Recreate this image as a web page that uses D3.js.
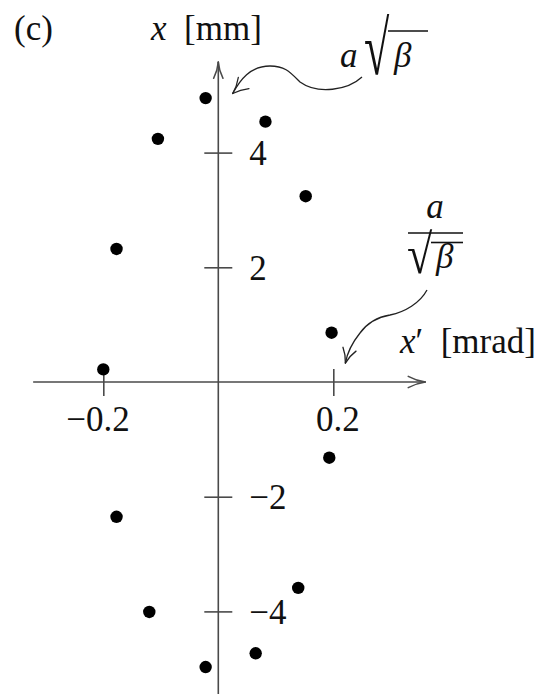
<!DOCTYPE html>
<html>
<head>
<meta charset="utf-8">
<script src="https://cdn.jsdelivr.net/npm/d3@7"></script>
<style>
  body { margin: 0; background: #fff; }
  svg { display: block; }
  text { font-family: "Liberation Serif", "Times New Roman", serif; fill: #111; }
</style>
</head>
<body>
<svg id="chart" width="552" height="694"></svg>
<script>
// Phase-space samples of successive turns: slope x' [mrad] and position x [mm]
const slopeMrad  = [-0.022, 0.082, -0.105, 0.152, -0.177, -0.200, 0.197, 0.193, -0.177, 0.139, -0.120, 0.065, -0.022];
const positionMm = [ 4.95,  4.54,   4.24,  3.24,   2.32,   0.22,  0.86, -1.32, -2.35, -3.59, -4.01, -4.73, -4.97];

// Axis ticks
const xTickValues = [-0.2, 0.2];
const yTickValues = [-4, -2, 2, 4];

const svg = d3.select("#chart");
const FONT = 35;
const AXIS_COLOR = "#4a4a4a";

// Scales: origin at the axis crossing
const x = d3.scaleLinear().domain([-0.2, 0.2]).range([103.3, 333.3]);
const y = d3.scaleLinear().domain([-2, 2]).range([496.7, 267.3]);

const x0 = x(0), y0 = y(0);

// Open "to"-style arrow head drawn with slightly bowed arms
function arrowHead(g, tip, angle, len, spread, color, width) {
  [-1, 1].forEach(s => {
    const a = angle + Math.PI + s * spread;
    const ex = tip[0] + len * Math.cos(a), ey = tip[1] + len * Math.sin(a);
    const mx = (tip[0] + ex) / 2, my = (tip[1] + ey) / 2;
    const nx = -Math.sin(a) * s * 1.6, ny = Math.cos(a) * s * 1.6;
    g.append("path")
      .attr("d", `M${ex},${ey} Q${mx - nx},${my - ny} ${tip[0]},${tip[1]}`)
      .attr("fill", "none").attr("stroke", color).attr("stroke-width", width)
      .attr("stroke-linecap", "round");
  });
}

// Radical sign stretched to the given height, followed by its vinculum
function radical(g, left, baseline, stretch, barY, barEnd) {
  g.append("text")
    .attr("transform", `translate(${left},${baseline}) scale(1,${stretch})`)
    .attr("font-size", 46).text("\u221A");
  g.append("line").attr("x1", left + 24).attr("x2", barEnd).attr("y1", barY).attr("y2", barY)
    .attr("stroke", "#111").attr("stroke-width", 1.6);
}

// ---- Axes ----
const axes = svg.append("g");
const xStart = x(-0.322), xEnd = x(0.36);
const yTop = y(5.58), yBottom = y(-5.8);

axes.append("line").attr("x1", xStart).attr("x2", xEnd).attr("y1", y0).attr("y2", y0)
  .attr("stroke", AXIS_COLOR).attr("stroke-width", 1.6);
axes.append("line").attr("x1", x0).attr("x2", x0).attr("y1", yBottom).attr("y2", yTop)
  .attr("stroke", AXIS_COLOR).attr("stroke-width", 1.6);
arrowHead(axes, [xEnd, y0], 0, 18, 0.32, AXIS_COLOR, 1.5);
arrowHead(axes, [x0, yTop], -Math.PI / 2, 17, 0.28, AXIS_COLOR, 1.5);

// x ticks (crossing the axis) with labels
const xAxis = d3.axisBottom(x).tickValues(xTickValues).tickFormat(d3.format(".1f"));
const gx = svg.append("g").attr("transform", `translate(0,${y0})`).call(xAxis);
gx.select(".domain").remove();
gx.selectAll(".tick line").attr("y1", -13).attr("y2", 14)
  .attr("stroke", AXIS_COLOR).attr("stroke-width", 1.6);
gx.selectAll(".tick text")
  .attr("font-size", FONT)
  .attr("text-anchor", "end").attr("x", 26).attr("y", 49).attr("dy", null)
  .style("fill", "#111");

// y ticks (crossing the axis) with labels
const yAxis = d3.axisRight(y).tickValues(yTickValues).tickFormat(d3.format("d"));
const gy = svg.append("g").attr("transform", `translate(${x0},0)`).call(yAxis);
gy.select(".domain").remove();
gy.selectAll(".tick line").attr("x1", -14).attr("x2", 14)
  .attr("stroke", AXIS_COLOR).attr("stroke-width", 1.6);
gy.selectAll(".tick text")
  .attr("font-size", FONT)
  .attr("text-anchor", "start").attr("x", 31).attr("y", 0).attr("dy", 12)
  .style("fill", "#111");
gx.attr("font-family", null); gy.attr("font-family", null);

// ---- Data points ----
svg.append("g").selectAll("circle")
  .data(d3.zip(slopeMrad, positionMm))
  .join("circle")
  .attr("cx", d => x(d[0]))
  .attr("cy", d => y(d[1]))
  .attr("r", 6.2)
  .attr("fill", "#000");

// ---- Labels ----
svg.append("text").attr("x", 14).attr("y", 40).attr("font-size", FONT).text("(c)");

const yLab = svg.append("text").attr("x", 151).attr("y", 40).attr("font-size", FONT);
yLab.append("tspan").attr("font-style", "italic").text("x");
yLab.append("tspan").text("\u2002[mm]");

const xLab = svg.append("text").attr("x", 400).attr("y", 353).attr("font-size", FONT);
xLab.append("tspan").attr("font-style", "italic").text("x");
xLab.append("tspan").text("\u2032\u2002[mrad]");

// a·sqrt(beta)  (amplitude in x)
const ann1 = svg.append("g");
ann1.append("text").attr("x", 340).attr("y", 67).attr("font-size", FONT)
  .attr("font-style", "italic").text("a");
radical(ann1, 364, 74, 1.65, 31, 428);
ann1.append("text").attr("x", 394).attr("y", 67).attr("font-size", FONT)
  .attr("font-style", "italic").text("\u03B2");

// a / sqrt(beta)  (amplitude in x')
const ann2 = svg.append("g");
ann2.append("text").attr("x", 435).attr("y", 218).attr("font-size", FONT)
  .attr("text-anchor", "middle").attr("font-style", "italic").text("a");
ann2.append("line").attr("x1", 408).attr("x2", 463).attr("y1", 233).attr("y2", 233)
  .attr("stroke", "#111").attr("stroke-width", 1.6);
radical(ann2, 407, 273, 1.2, 242.5, 463);
ann2.append("text").attr("x", 436).attr("y", 268).attr("font-size", FONT)
  .attr("font-style", "italic").text("\u03B2");

// ---- Curved pointer arrows ----
const arrows = svg.append("g");
// to the top of the x range (x = a*sqrt(beta))
const tip1 = [x(0.025), y(5.03)];
arrows.append("path")
  .attr("d", `M362,77 C348,90 318,95 300,82 C290,72 285,66 270,66 C250,66 240,80 ${tip1[0]},${tip1[1]}`)
  .attr("fill", "none").attr("stroke", "#222").attr("stroke-width", 1.3);
arrowHead(arrows, tip1, Math.atan2(11, -11.5), 17, 0.47, "#222", 1.3);

// to the end of the x' range (x' = a/sqrt(beta))
const tip2 = [x(0.221), y(0.33)];
arrows.append("path")
  .attr("d", `M427,290 C420,303 405,312 390,315 C378,317 368,322 360,333 C352,343 347,354 ${tip2[0]},${tip2[1]}`)
  .attr("fill", "none").attr("stroke", "#222").attr("stroke-width", 1.3);
arrowHead(arrows, tip2, Math.atan2(13.5, -4), 16, 0.44, "#222", 1.3);
</script>
</body>
</html>
